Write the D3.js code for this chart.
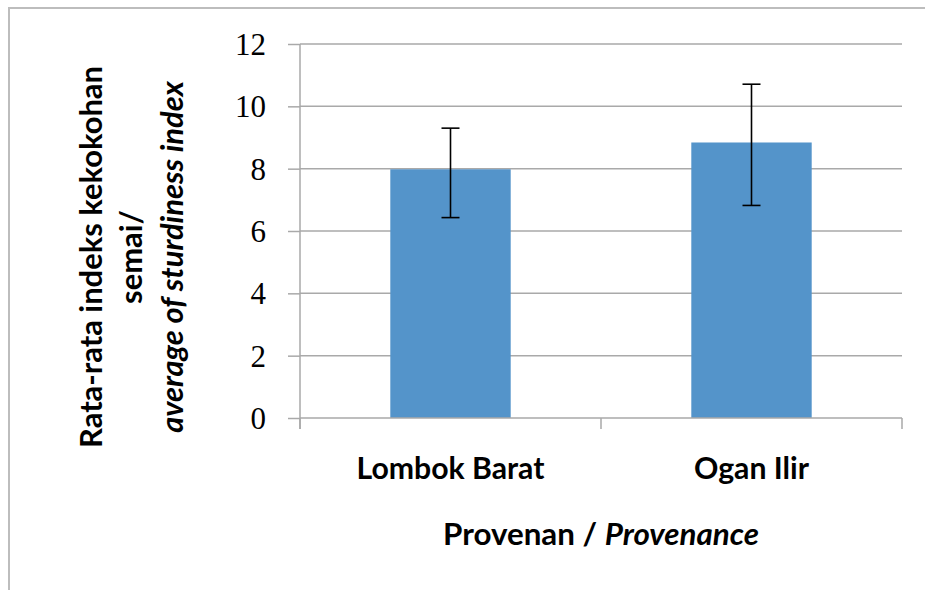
<!DOCTYPE html>
<html>
<head>
<meta charset="utf-8">
<script src="https://cdn.jsdelivr.net/npm/d3@7"></script>
<style>
  body { margin: 0; background: #fff; }
  svg text { font-family: Lato, "Open Sans", sans-serif; fill: #000; }
  .tick text { font-family: "Liberation Serif", "DejaVu Serif", serif; }
</style>
</head>
<body>
<svg id="chart" width="925" height="590"></svg>
<script>
// values
const categories = ['Lombok Barat', 'Ogan Ilir']
const means = [7.98, 8.84]
const errLow = [6.43, 6.82]
const errHigh = [9.30, 10.71]
const yTicks = [0, 2, 4, 6, 8, 10, 12]

const titleY = ['Rata-rata indeks kekokohan', 'semai/', 'average of sturdiness index']
const titleX = ['Provenan / ', 'Provenance']

const svg = d3.select('#chart')
const plot = { left: 300, right: 902, top: 44, bottom: 418 }
const gray = '#a9a9a9'

// chart frame, right & bottom edges fall outside the picture
svg.append('rect')
    .attr('x', 9).attr('y', 8)
    .attr('width', 1000).attr('height', 700)
    .attr('fill', 'none')
    .attr('stroke', '#bdbdbd')
    .attr('stroke-width', 2)

const x = d3.scaleBand()
    .domain(categories)
    .range([plot.left, plot.right])
    .paddingInner(0.6)
    .paddingOuter(0.3)

const y = d3.scaleLinear()
    .domain([0, 12])
    .range([plot.bottom, plot.top])

// gridlines
svg.append('g').selectAll('line')
    .data(yTicks.filter(d => d > 0))
    .join('line')
    .attr('x1', plot.left).attr('x2', plot.right)
    .attr('y1', d => y(d)).attr('y2', d => y(d))
    .attr('stroke', gray)
    .attr('stroke-width', 1.5)

// bars
svg.append('g').selectAll('rect')
    .data(categories)
    .join('rect')
    .attr('x', d => x(d))
    .attr('width', x.bandwidth())
    .attr('y', (d, i) => y(means[i]))
    .attr('height', (d, i) => y(0) - y(means[i]))
    .attr('fill', '#5494ca')

// y axis
const yAxis = svg.append('g')
    .attr('transform', `translate(${plot.left},0)`)
    .call(d3.axisLeft(y).tickValues(yTicks).tickSize(12).tickSizeOuter(0).tickPadding(22))
yAxis.select('.domain').remove()
yAxis.append('line')
    .attr('y1', plot.top).attr('y2', plot.bottom + 11)
    .attr('stroke', gray).attr('stroke-width', 1.5)
yAxis.selectAll('.tick line').attr('stroke', gray).attr('stroke-width', 1.5)
yAxis.selectAll('.tick text')
    .attr('font-size', 31)
    .attr('fill', '#000')
    .attr('dy', '0.34em')

// x axis with category boundary ticks
const xAxis = svg.append('g')
xAxis.append('line')
    .attr('x1', plot.left).attr('x2', plot.right)
    .attr('y1', plot.bottom).attr('y2', plot.bottom)
    .attr('stroke', gray).attr('stroke-width', 1.5)
const bounds = categories.map(d => x(d) - x.step() * x.paddingOuter())
bounds.push(plot.right)
xAxis.selectAll('.bound')
    .data(bounds)
    .join('line')
    .attr('x1', d => d).attr('x2', d => d)
    .attr('y1', plot.bottom).attr('y2', plot.bottom + 11)
    .attr('stroke', gray).attr('stroke-width', 1.5)

// error bars
const err = svg.append('g').attr('stroke', '#000').attr('stroke-width', 1.6)
categories.forEach((c, i) => {
    const cx = x(c) + x.bandwidth() / 2
    err.append('line')
        .attr('x1', cx).attr('x2', cx)
        .attr('y1', y(errLow[i])).attr('y2', y(errHigh[i]))
    ;[errLow[i], errHigh[i]].forEach(v => {
        err.append('line')
            .attr('x1', cx - 9).attr('x2', cx + 9)
            .attr('y1', y(v)).attr('y2', y(v))
    })
})

// fit a text to a width measured on the picture
function fitSize(sel, target, start) {
    sel.attr('font-size', start)
    const w = sel.node().getComputedTextLength()
    const size = start * target / w
    sel.attr('font-size', size)
    return size
}

// category labels
const catLabels = svg.append('g').selectAll('text')
    .data(categories)
    .join('text')
    .attr('x', d => x(d) + x.bandwidth() / 2)
    .attr('y', 479)
    .attr('text-anchor', 'middle')
    .attr('font-weight', 700)
    .text(d => d)
const catSize = fitSize(catLabels.filter((d, i) => i === 0), 188, 30)
catLabels.attr('font-size', catSize)

// x title
const xt = svg.append('text')
    .attr('x', (plot.left + plot.right) / 2)
    .attr('y', 545)
    .attr('text-anchor', 'middle')
    .attr('font-weight', 700)
xt.append('tspan').text(titleX[0])
xt.append('tspan').attr('font-style', 'italic').text(titleX[1])
fitSize(xt, 316, 30)

// y title, three rotated lines
const yt = svg.append('g').attr('transform', 'translate(0,257) rotate(-90)')
const baselines = [102, 142, 183]
const ytLines = yt.selectAll('text')
    .data(titleY)
    .join('text')
    .attr('x', 0)
    .attr('y', (d, i) => baselines[i])
    .attr('text-anchor', 'middle')
    .attr('font-weight', 700)
    .attr('font-style', (d, i) => i === 2 ? 'italic' : 'normal')
    .text(d => d)
const ytSize = fitSize(ytLines.filter((d, i) => i === 0), 382, 30)
ytLines.attr('font-size', ytSize)
</script>
</body>
</html>
